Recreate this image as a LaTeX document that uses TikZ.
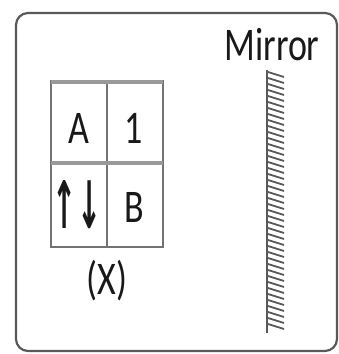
\documentclass[tikz,border=0pt]{standalone}
\usepackage{fontspec}
\setmainfont{Carlito}
\newfontfamily\arrowfont{DejaVu Sans}
\tikzset{
  cell/.style={font=\fontsize{36}{38}\selectfont, text=black!90, inner sep=0pt, yscale=1.3},
  gridline/.style={draw=black!55, line width=1.6pt},
  thickline/.style={draw=black!40, line width=3.5pt},
}
\begin{document}
\begin{tikzpicture}[x=1pt, y=-1pt]
  \useasboundingbox (0,0) rectangle (338,354);
  % frame
  \draw[black!65, line width=2.2pt, rounded corners=12pt] (16,13) rectangle (337,351);
  % object X
  \draw[gridline] (51,81) rectangle (163,247);
  \draw[gridline] (107,81) -- (107,247);
  \draw[thickline] (51,82) -- (163,82);
  \draw[thickline] (51,163) -- (163,163);
  \node[cell] (A) at (79,128) {A};
  \node[cell] (one) at (134,128) {1};
  \node[cell, xscale=0.8, yscale=1.4] (arr) at (77,205) {\arrowfont\bfseries ↑↓};
  \node[cell] (B) at (134,207) {B};
  \node[cell] (X) at (107,281) {(X)};
  % mirror
  \node[cell] (mlabel) at (272,45) {Mirror};
  \coordinate (mtop) at (267,70);
  \coordinate (mbot) at (267,333);
  \draw[black!65, line width=2.5pt] (mtop) -- (mbot);
  \foreach \y in {72,78,...,328}
    \draw[black!65, line width=1.8pt] (268,\y) -- (284,\y+5);
\end{tikzpicture}
\end{document}
